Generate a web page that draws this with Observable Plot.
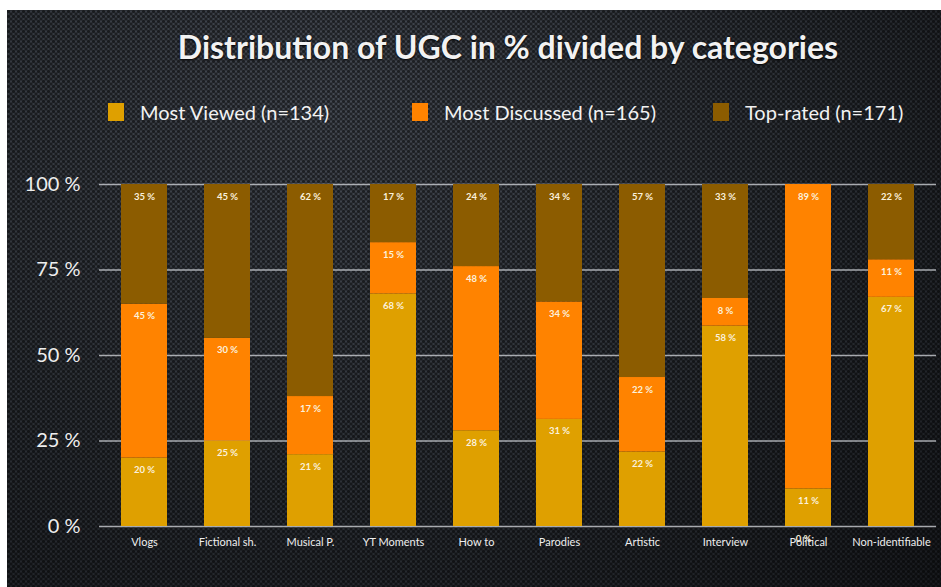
<!DOCTYPE html>
<html>
<head>
<meta charset="utf-8">
<script src="https://cdn.jsdelivr.net/npm/d3@7"></script>
<script src="https://cdn.jsdelivr.net/npm/@observablehq/plot@0.6"></script>
<style>
  html, body { margin: 0; padding: 0; background: #fff; overflow: hidden; }
  #wrap {
    position: absolute; left: 7px; top: 10px; width: 934px; height: 577px;
    font-family: Lato, "Open Sans", sans-serif; color: #f2f2f2;
    background:
      radial-gradient(circle at 1.5px 1.5px, rgba(0,0,0,0.55) 1.2px, transparent 1.8px) 0 0/5px 5px,
      radial-gradient(circle at 1.5px 1.5px, rgba(0,0,0,0.55) 1.2px, transparent 1.8px) 2.5px 2.5px/5px 5px,
      radial-gradient(ellipse at 35% 15%, #454a53 0%, #2c3036 55%, #181a1e 100%);
  }
  #title { height: 74px; line-height: 74px; text-align: center; font-weight: 700; font-size: 32px; padding-left: 68px; text-shadow: 0 1px 2px #000; white-space: nowrap; }
  #legend { height: 56px; position: relative; font-size: 20px; }
  .item { position: absolute; top: 0; height: 56px; display: flex; align-items: center; white-space: nowrap; }
  .sw { width: 16px; height: 18px; margin-right: 16px; }
  #chart svg { display: block; }
</style>
</head>
<body>
<div id="wrap">
  <div id="title">Distribution of UGC in % divided by categories</div>
  <div id="legend"></div>
  <div id="chart"></div>
</div>
<script>
const categories = ["Vlogs", "Fictional sh.", "Musical P.", "YT Moments", "How to", "Parodies", "Artistic", "Interview", "Political", "Non-identifiable"];
const series = ["Most Viewed (n=134)", "Most Discussed (n=165)", "Top-rated (n=171)"];
const mostViewed    = [20, 25, 21, 68, 28, 31, 22, 58, 11, 67];
const mostDiscussed = [45, 30, 17, 15, 48, 34, 22,  8, 89, 11];
const topRated      = [35, 45, 62, 17, 24, 34, 57, 33,  0, 22];
const colors = ["#DFA000", "#FF8300", "#8C5C00"];
const yTicks = [0, 25, 50, 75, 100];

const values = [mostViewed, mostDiscussed, topRated];
const data = [];
series.forEach((s, si) => categories.forEach((c, ci) => data.push({category: c, series: s, value: values[si][ci]})));

// legend
const legendLefts = [101, 405, 706];
const legend = document.getElementById("legend");
series.forEach((s, i) => {
  const it = document.createElement("div");
  it.className = "item";
  it.style.left = legendLefts[i] + "px";
  it.innerHTML = `<div class="sw" style="background:${colors[i]}"></div><span>${s}</span>`;
  legend.appendChild(it);
});

const chart = Plot.plot({
  width: 934,
  height: 447,
  marginTop: 44,
  marginBottom: 61,
  marginLeft: 92,
  marginRight: 5,
  style: {background: "transparent", color: "#eeeeee", fontFamily: "Lato, 'Open Sans', sans-serif"},
  x: {domain: categories, paddingInner: 0.45, paddingOuter: 0.225, label: null},
  y: {domain: [0, 1], label: null},
  color: {domain: series, range: colors},
  marks: [
    Plot.gridY(yTicks.map(d => d / 100), {stroke: "#d8dbe0", strokeOpacity: 0.75, strokeWidth: 1.5}),
    Plot.barY(data, {x: "category", y: "value", fill: "series", offset: "normalize"}),
    Plot.text(data.filter(d => d.value > 0), Plot.stackY2({
      x: "category", y: "value", z: "series", offset: "normalize",
      text: d => d.value + " %", dy: 12, fill: "#fbf1dd", fontSize: 9.5, fontWeight: "bold"
    })),
    Plot.text(data.filter(d => d.value === 0), {
      x: "category", y: 0, text: d => d.value + " %", dy: 12, dx: -5, fill: "#fbf1dd", fontSize: 9.5, fontWeight: "bold"
    }),
    Plot.axisX({tickSize: 0, tickPadding: 12, fontSize: 11, color: "#eeeeee", label: null}),
    Plot.axisY(yTicks.map(d => d / 100), {tickSize: 0, tickPadding: 19, fontSize: 20, color: "#eeeeee", label: null, tickFormat: d => Math.round(d * 100) + " %"})
  ]
});
document.getElementById("chart").appendChild(chart);
</script>
</body>
</html>
